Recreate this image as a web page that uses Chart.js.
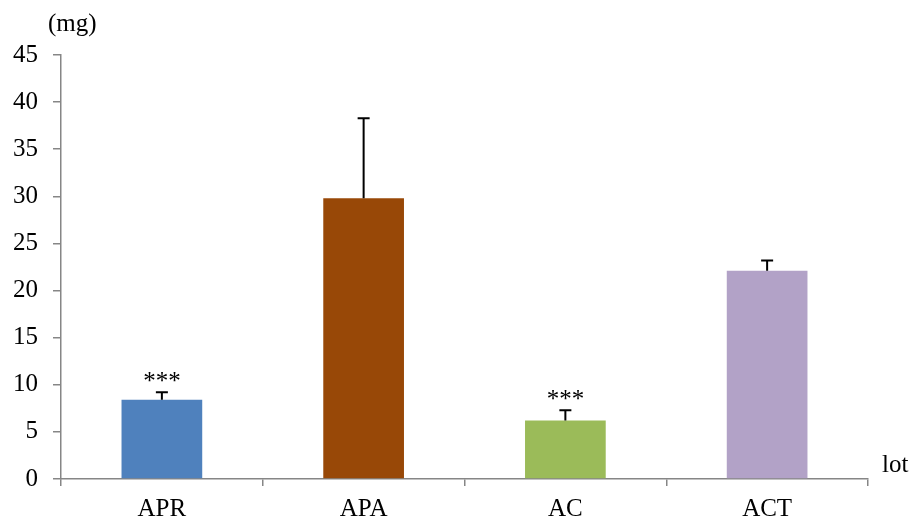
<!DOCTYPE html>
<html>
<head>
<meta charset="utf-8">
<script src="https://cdn.jsdelivr.net/npm/chart.js@4"></script>
<style>
  html, body { margin: 0; padding: 0; background: #fff; }
  #wrap { width: 917px; height: 519px; }
</style>
</head>
<body>
<div id="wrap"><canvas id="myChart" width="917" height="519"></canvas></div>
<script>
  const lots = ["APR", "APA", "AC", "ACT"];
  const means = [8.4, 29.8, 6.2, 22.1];
  const errors = [0.8, 8.5, 1.1, 1.1];
  const stars = ["***", "", "***", ""];
  const barColors = ["#4f81bd", "#984807", "#9bbb59", "#b2a2c7"];
  const yTicks = [0, 5, 10, 15, 20, 25, 30, 35, 40, 45];

  const axisGray = "#868686";
  const font = { family: "'Liberation Serif', 'Times New Roman', serif", size: 25 };

  // error bars (upper only) + significance stars
  const errorBars = {
    id: "errorBars",
    afterDatasetsDraw(chart) {
      const c = chart.ctx;
      const meta = chart.getDatasetMeta(0);
      const y = chart.scales.y;
      c.save();
      c.strokeStyle = "#000";
      c.lineWidth = 2;
      meta.data.forEach((bar, i) => {
        const top = y.getPixelForValue(means[i] + errors[i]);
        const base = y.getPixelForValue(means[i]);
        c.beginPath();
        c.moveTo(bar.x, base);
        c.lineTo(bar.x, top);
        c.moveTo(bar.x - 6, top);
        c.lineTo(bar.x + 6, top);
        c.stroke();
        if (stars[i]) {
          c.fillStyle = "#000";
          c.font = font.size + "px " + font.family;
          c.textAlign = "center";
          c.textBaseline = "alphabetic";
          c.fillText(stars[i], bar.x, top - 3);
        }
      });
      // axis titles
      c.fillStyle = "#000";
      c.font = font.size + "px " + font.family;
      c.textAlign = "left";
      c.textBaseline = "alphabetic";
      c.fillText("(mg)", 48, 31);
      c.fillText("lot", 882, 472);
      c.restore();
    }
  };

  var ctx = document.getElementById('myChart').getContext('2d');
  var myChart = new Chart(ctx, {
    type: 'bar',
    data: {
      labels: lots,
      datasets: [{
        data: means,
        backgroundColor: barColors,
        borderWidth: 0,
        barPercentage: 0.4,
        categoryPercentage: 1
      }]
    },
    options: {
      responsive: false,
      animation: false,
      layout: { padding: { top: 55, right: 49, left: 0, bottom: 0 } },
      plugins: { legend: { display: false }, tooltip: { enabled: false } },
      scales: {
        x: {
          offset: true,
          grid: { offset: true, drawOnChartArea: false, drawTicks: true, tickLength: 7, color: axisGray, lineWidth: 1.5 },
          border: { color: axisGray, width: 1.5 },
          ticks: { color: "#000", font: font, padding: 8 },
          afterFit(scale) { scale.height = 40; }
        },
        y: {
          min: 0,
          max: 45,
          afterBuildTicks(scale) { scale.ticks = yTicks.map(v => ({ value: v })); },
          grid: { drawOnChartArea: false, drawTicks: true, tickLength: 8, color: axisGray, lineWidth: 1.5 },
          border: { color: axisGray, width: 1.5 },
          ticks: { color: "#000", font: font, padding: 15 },
          afterFit(scale) { scale.width = 61; }
        }
      }
    },
    plugins: [errorBars]
  });
</script>
</body>
</html>
